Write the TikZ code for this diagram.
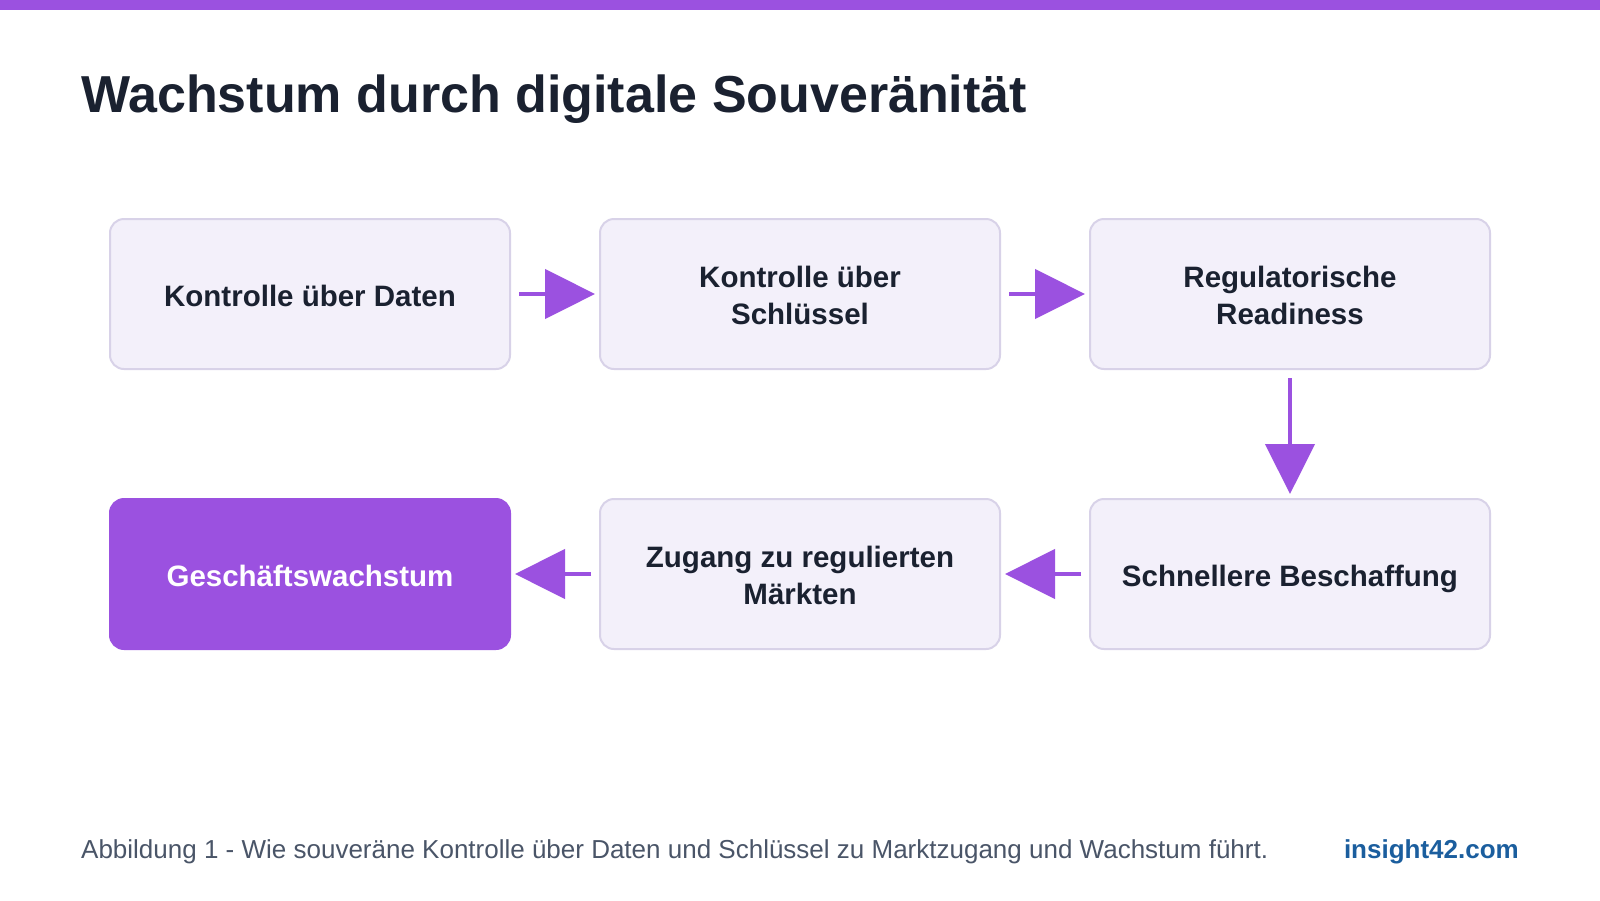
\documentclass[tikz,border=0pt]{standalone}
\usepackage{fontspec}
\setmainfont{Liberation Sans}
\usetikzlibrary{arrows.meta}
\definecolor{purp}{HTML}{9B51E0}
\definecolor{boxfill}{HTML}{F3F0FA}
\definecolor{boxline}{HTML}{D8D2E8}
\definecolor{inktext}{HTML}{1A2130}
\definecolor{captext}{HTML}{4A5568}
\definecolor{linkblue}{HTML}{1B5E9E}
\newcommand\lnstrut{\rule[-6.3pt]{0pt}{37pt}}
\tikzset{
  stepbox/.style={draw=boxline, line width=2pt, fill=boxfill, rounded corners=14pt,
    minimum width=400pt, minimum height=150pt, align=center, text=inktext,
    font=\fontsize{29.5}{37}\selectfont\bfseries, inner sep=0pt},
  goalbox/.style={stepbox, draw=purp, fill=purp, text=white},
  flow/.style={draw=purp, line width=4.5pt, -{Triangle[length=50pt,width=49pt]},
    shorten <=8pt, shorten >=4pt},
}
\begin{document}
\begin{tikzpicture}[x=1pt,y=-1pt]
\useasboundingbox (0,0) rectangle (1600,900);
\fill[white] (0,0) rectangle (1600,900);
\fill[purp] (0,0) rectangle (1600,10);
\node[anchor=base west, text=inktext, font=\fontsize{52}{60}\selectfont\bfseries, inner sep=0pt] (title) at (81,112) {Wachstum durch digitale Souveränität};
\node[stepbox] (b1) at (310,294) {\lnstrut Kontrolle über Daten};
\node[stepbox] (b2) at (800,294) {\lnstrut Kontrolle über\\\lnstrut Schlüssel};
\node[stepbox] (b3) at (1290,294) {\lnstrut Regulatorische\\\lnstrut Readiness};
\node[stepbox] (b5) at (1290,574) {\lnstrut Schnellere Beschaffung};
\node[stepbox] (b4) at (800,574) {\lnstrut Zugang zu regulierten\\\lnstrut Märkten};
\node[goalbox] (b6) at (310,574) {\lnstrut Geschäftswachstum};
\draw[flow] (b1) -- (b2);
\draw[flow] (b2) -- (b3);
\draw[flow] (b3) -- (b5);
\draw[flow] (b5) -- (b4);
\draw[flow] (b4) -- (b6);
\node[anchor=base west, text=captext, font=\fontsize{26}{30}\selectfont, inner sep=0pt] (cap) at (81,858) {Abbildung 1 - Wie souveräne Kontrolle über Daten und Schlüssel zu Marktzugang und Wachstum führt.};
\node[anchor=base east, text=linkblue, font=\fontsize{26}{30}\selectfont\bfseries, inner sep=0pt] (link) at (1519,858) {insight42.com};
\end{tikzpicture}
\end{document}
